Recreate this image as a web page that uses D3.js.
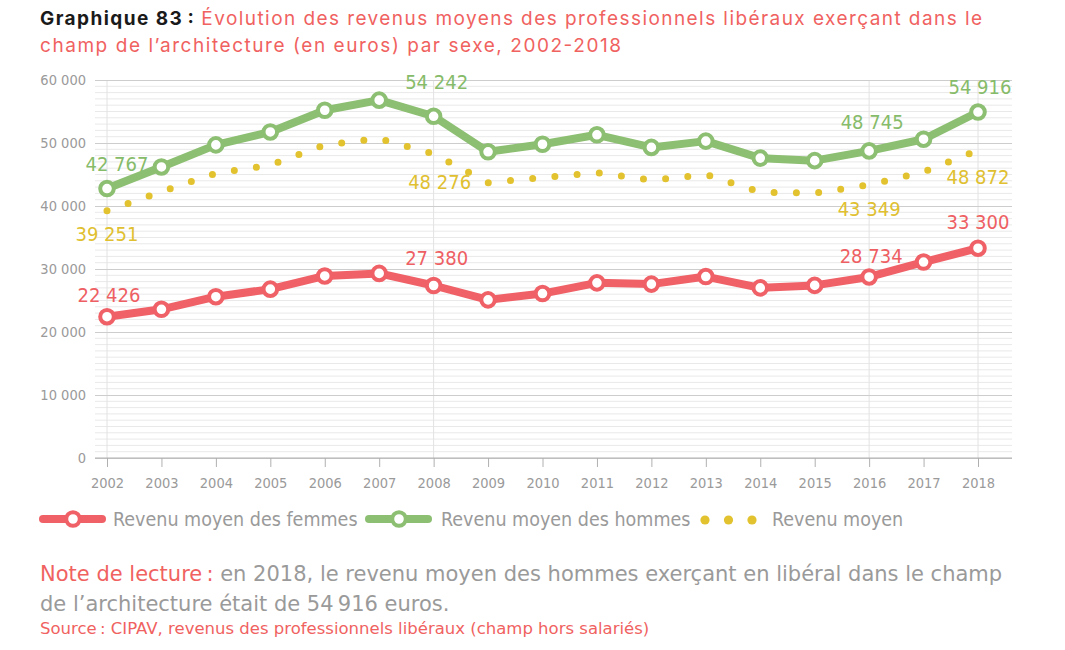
<!DOCTYPE html>
<html>
<head>
<meta charset="utf-8">
<script src="https://cdn.jsdelivr.net/npm/d3@7"></script>
<style>
  body { margin: 0; background: #fff; }
  text { font-family: "DejaVu Sans Condensed", "DejaVu Sans", sans-serif; }
</style>
</head>
<body>
<div id="chart"></div>
<script>
var years = [2002, 2003, 2004, 2005, 2006, 2007, 2008, 2009, 2010, 2011, 2012, 2013, 2014, 2015, 2016, 2017, 2018];
var femmes = [22426, 23600, 25600, 26800, 28900, 29300, 27380, 25100, 26100, 27800, 27600, 28800, 27000, 27400, 28734, 31100, 33300];
var hommes = [42767, 46200, 49700, 51750, 55200, 56800, 54242, 48600, 49800, 51300, 49300, 50300, 47600, 47200, 48745, 50600, 54916];
var moyen = [39251, 42250, 45200, 46500, 49700, 50700, 48276, 43700, 44500, 45300, 44100, 45000, 42200, 42050, 43349, 45400, 48872];
var yTicks = [0, 10000, 20000, 30000, 40000, 50000, 60000];
var labelYears = [2002, 2008, 2016, 2018];
var seriesNames = ["Revenu moyen des femmes", "Revenu moyen des hommes", "Revenu moyen"];

var red = "#ef6167";
var green = "#8dbf72";
var yellow = "#e2c22e";
var grey = "#9a9a9a";

var w = 1065;
var h = 650;

// label offsets [dx, dy] for each labelled year
var offH = [[10, -18], [3, -27], [3, -22], [2, -18]];
var offM = [[0, 30], [6, 35], [0, 31], [0, 34]];
var offF = [[2, -15], [3, -21], [2, -14], [0, -19]];

const fmt = (v) => d3.format(",")(v).replace(/,/g, " ");

const svg = d3.select("#chart").append("svg").attr("width", w).attr("height", h);

// title
const t1 = svg.append("text").attr("x", 40).attr("y", 25)
  .style("font-family", "Inter, 'Open Sans', sans-serif").style("font-size", "19px")
  .attr("textLength", 942).attr("lengthAdjust", "spacing");
t1.append("tspan").style("font-weight", "bold").attr("fill", "#1a1a1a").text("Graphique 83\u2009: ");
t1.append("tspan").attr("fill", "#f0625f").text("Évolution des revenus moyens des professionnels libéraux exerçant dans le");
svg.append("text").attr("x", 40).attr("y", 52)
  .style("font-family", "Inter, 'Open Sans', sans-serif").style("font-size", "19px")
  .attr("fill", "#f0625f").attr("textLength", 581).attr("lengthAdjust", "spacing")
  .text("champ de l\u2019architecture (en euros) par sexe, 2002-2018");

const xScale = d3.scalePoint().domain(years).range([107, 978]);
const yScale = d3.scaleLinear().domain([0, 60000]).range([458, 80]);
const left = 95, right = 1012;

// minor grid every 1000
svg.append("g").selectAll("line").data(d3.range(1000, 60001, 1000).filter((v) => v % 10000 != 0))
  .enter().append("line")
  .attr("x1", left).attr("x2", right)
  .attr("y1", (d) => yScale(d)).attr("y2", (d) => yScale(d))
  .attr("stroke", "#e9e9e9").attr("stroke-width", 1);

svg.append("g").selectAll("line").data(labelYears).enter().append("line")
  .attr("x1", (d) => xScale(d)).attr("x2", (d) => xScale(d))
  .attr("y1", yScale(60000)).attr("y2", yScale(0))
  .attr("stroke", "#e2e2e2").attr("stroke-width", 1);

const yAxis = d3.axisLeft(yScale).tickValues(yTicks).tickSize(-(right - left)).tickPadding(9).tickFormat(fmt);
const gy = svg.append("g").attr("transform", `translate(${left},0)`).call(yAxis)
  .attr("font-size", null).attr("font-family", null);
gy.select(".domain").remove();
gy.selectAll(".tick line").attr("stroke", "#cdcdcd");
gy.selectAll(".tick text").attr("fill", grey).attr("style", "font-size:14.5px");

const xAxis = d3.axisBottom(xScale).tickSize(9).tickPadding(11).tickFormat(d3.format("d"));
const gx = svg.append("g").attr("transform", `translate(0,${yScale(0)})`).call(xAxis)
  .attr("font-size", null).attr("font-family", null);
gx.select(".domain").attr("d", `M${left},0H${right}`).attr("stroke", "#b0b0b0");
gx.selectAll(".tick line").attr("stroke", "#b0b0b0");
gx.selectAll(".tick text").attr("fill", grey).attr("style", "font-size:14.5px");

const line = d3.line().x((d, i) => xScale(years[i])).y((d) => yScale(d));

// average, dotted
svg.append("path").datum(moyen).attr("d", line).attr("fill", "none")
  .attr("stroke", yellow).attr("stroke-width", 7)
  .attr("stroke-linecap", "round").attr("stroke-dasharray", "0 22.3");

[[hommes, green], [femmes, red]].forEach(([vals, col]) => {
  svg.append("path").datum(vals).attr("d", line).attr("fill", "none")
    .attr("stroke", col).attr("stroke-width", 8).attr("stroke-linejoin", "round");
  svg.append("g").selectAll("circle").data(vals).enter().append("circle")
    .attr("cx", (d, i) => xScale(years[i])).attr("cy", (d) => yScale(d))
    .attr("r", 6.8).attr("fill", "#fff").attr("stroke", col).attr("stroke-width", 4);
});

// data labels
[[hommes, "#86bb69", offH], [moyen, "#e0c030", offM], [femmes, "#ee5f63", offF]].forEach(([vals, col, off]) => {
  labelYears.forEach((yr, k) => {
    var i = years.indexOf(yr);
    svg.append("text")
      .attr("x", xScale(yr) + off[k][0]).attr("y", yScale(vals[i]) + off[k][1])
      .attr("text-anchor", "middle").attr("fill", col).style("font-size", "20px")
      .text(fmt(vals[i]));
  });
});

// legend
const lg = svg.append("g").attr("transform", "translate(0,519)");
[[red, 43, 113, seriesNames[0]], [green, 369, 441, seriesNames[1]]].forEach(([col, x0, tx, name]) => {
  lg.append("line").attr("x1", x0).attr("x2", x0 + 59).attr("stroke", col)
    .attr("stroke-width", 8).attr("stroke-linecap", "round");
  lg.append("circle").attr("cx", x0 + 30).attr("r", 6.8).attr("fill", "#fff")
    .attr("stroke", col).attr("stroke-width", 4);
  lg.append("text").attr("x", tx).attr("y", 7).attr("fill", grey)
    .style("font-size", "19.5px").text(name);
});
lg.selectAll(".dot").data([705, 728.5, 752]).enter().append("circle")
  .attr("cx", (d) => d).attr("cy", 1).attr("r", 4.6).attr("fill", yellow);
lg.append("text").attr("x", 772).attr("y", 7).attr("fill", grey)
  .style("font-size", "19.5px").text(seriesNames[2]);

// notes
const n1 = svg.append("text").attr("x", 40).attr("y", 581)
  .style("font-family", "'DejaVu Sans', sans-serif").style("font-size", "21px");
n1.append("tspan").attr("fill", "#f0625f").text("Note de lecture\u2009: ");
n1.append("tspan").attr("fill", grey).text("en 2018, le revenu moyen des hommes exerçant en libéral dans le champ");
svg.append("text").attr("x", 40).attr("y", 611)
  .style("font-family", "'DejaVu Sans', sans-serif").style("font-size", "21px").attr("fill", grey)
  .text("de l\u2019architecture était de 54\u2009916 euros.");
svg.append("text").attr("x", 40).attr("y", 634)
  .style("font-family", "'DejaVu Sans', sans-serif").style("font-size", "16.5px").attr("fill", "#f0625f")
  .text("Source\u2009: CIPAV, revenus des professionnels libéraux (champ hors salariés)");
</script>
</body>
</html>
